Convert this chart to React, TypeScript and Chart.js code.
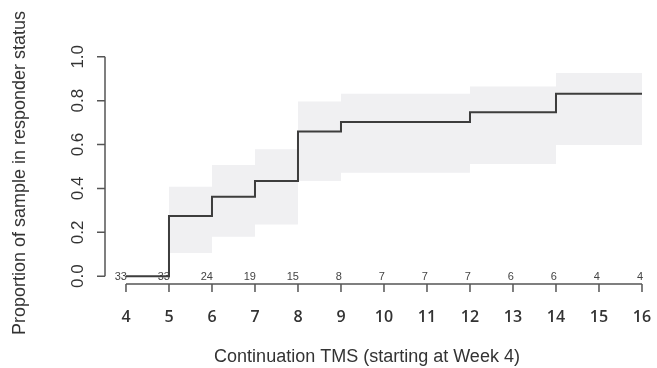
import React, { useEffect, useRef } from "react";
import { Chart, registerables } from "chart.js";

Chart.register(...registerables);

const xTicks = [4, 5, 6, 7, 8, 9, 10, 11, 12, 13, 14, 15, 16];
const yTicks = [0, 0.2, 0.4, 0.6, 0.8, 1.0];
const yTickLabels = ["0.0", "0.2", "0.4", "0.6", "0.8", "1.0"];
const atRisk = [33, 33, 24, 19, 15, 8, 7, 7, 7, 6, 6, 4, 4];

const stepX = [4, 5, 6, 7, 8, 9, 12, 14, 16];
const estimate = [0, 0.275, 0.362, 0.434, 0.659, 0.703, 0.747, 0.831, 0.831];

const bandX = [5, 6, 7, 8, 9, 12, 14, 16];
const upper = [0.408, 0.507, 0.579, 0.796, 0.831, 0.864, 0.926, 0.926];
const lower = [0.106, 0.18, 0.236, 0.434, 0.472, 0.511, 0.598, 0.598];

const xTitle = "Continuation TMS (starting at Week 4)";
const yTitle = "Proportion of sample in responder status";

const axisPlugin = {
  id: "rAxes",
  beforeDatasetsDraw(chart: any) {
    const { ctx, scales } = chart;
    const x = scales.x;
    const y = scales.y;
    ctx.save();
    ctx.fillStyle = "#444";
    ctx.font = "11px 'Liberation Sans', Arial, sans-serif";
    ctx.textAlign = "right";
    ctx.textBaseline = "middle";
    const y0 = y.getPixelForValue(0);
    xTicks.forEach((v, i) => {
      ctx.fillText(String(atRisk[i]), x.getPixelForValue(v) + 1, y0 + 0.5);
    });
    ctx.restore();
  },
  afterDraw(chart: any) {
    const { ctx, scales, chartArea } = chart;
    const x = scales.x;
    const y = scales.y;
    ctx.save();
    ctx.strokeStyle = "#555";
    ctx.lineWidth = 1.5;
    // y axis
    const yx = chartArea.left;
    ctx.beginPath();
    ctx.moveTo(yx, y.getPixelForValue(yTicks[0]));
    ctx.lineTo(yx, y.getPixelForValue(yTicks[yTicks.length - 1]));
    yTicks.forEach((v) => {
      const py = y.getPixelForValue(v);
      ctx.moveTo(yx, py);
      ctx.lineTo(yx - 8, py);
    });
    ctx.stroke();
    // x axis
    const xy = chartArea.bottom - 1;
    ctx.beginPath();
    ctx.moveTo(x.getPixelForValue(xTicks[0]), xy);
    ctx.lineTo(x.getPixelForValue(xTicks[xTicks.length - 1]), xy);
    xTicks.forEach((v) => {
      const px = x.getPixelForValue(v);
      ctx.moveTo(px, xy);
      ctx.lineTo(px, xy + 8);
    });
    ctx.stroke();

    // y tick labels
    ctx.fillStyle = "#333";
    ctx.font = "17px 'Liberation Sans', Arial, sans-serif";
    ctx.textAlign = "center";
    ctx.textBaseline = "middle";
    yTicks.forEach((v, i) => {
      ctx.save();
      ctx.translate(78, y.getPixelForValue(v));
      ctx.rotate(-Math.PI / 2);
      ctx.fillText(yTickLabels[i], 0, 0);
      ctx.restore();
    });
    // x tick labels
    ctx.font = "600 16px 'Open Sans', sans-serif";
    xTicks.forEach((v) => {
      ctx.fillText(String(v), x.getPixelForValue(v), 317);
    });
    // titles
    ctx.font = "18px 'Liberation Sans', Arial, sans-serif";
    ctx.fillText(xTitle, 367, 357);
    ctx.save();
    ctx.translate(20, 173);
    ctx.rotate(-Math.PI / 2);
    ctx.fillText(yTitle, 0, 0);
    ctx.restore();
    ctx.restore();
  },
};

export default function App() {
  const ref = useRef<HTMLCanvasElement | null>(null);
  useEffect(() => {
    if (!ref.current) return;
    const chart = new Chart(ref.current, {
      type: "line",
      data: {
        datasets: [
          {
            label: "estimate",
            data: stepX.map((v, i) => ({ x: v, y: estimate[i] })),
            stepped: "before",
            borderColor: "#3d3d3d",
            borderWidth: 2,
            pointRadius: 0,
            fill: false,
            order: 0,
          },
          {
            label: "upper",
            data: bandX.map((v, i) => ({ x: v, y: upper[i] })),
            stepped: "before",
            borderColor: "rgba(0,0,0,0)",
            borderWidth: 0,
            pointRadius: 0,
            backgroundColor: "rgb(240,240,242)",
            fill: "+1",
            order: 1,
          },
          {
            label: "lower",
            data: bandX.map((v, i) => ({ x: v, y: lower[i] })),
            stepped: "before",
            borderColor: "rgba(0,0,0,0)",
            borderWidth: 0,
            pointRadius: 0,
            fill: false,
            order: 2,
          },
        ],
      },
      options: {
        animation: false,
        responsive: false,
        devicePixelRatio: 1,
        layout: { padding: { left: 105, right: 0, top: 48, bottom: 83 } },
        plugins: { legend: { display: false }, tooltip: { enabled: false } },
        scales: {
          x: { type: "linear", display: false, min: 3.512, max: 16.349 },
          y: { type: "linear", display: false, min: -0.04, max: 1.04 },
        },
      },
      plugins: [axisPlugin],
    });
    return () => chart.destroy();
  }, []);
  return (
    <div style={{ position: "fixed", left: 0, top: 0, width: 657, height: 368, background: "#fff" }}>
      <canvas ref={ref} width={657} height={368} />
    </div>
  );
}
